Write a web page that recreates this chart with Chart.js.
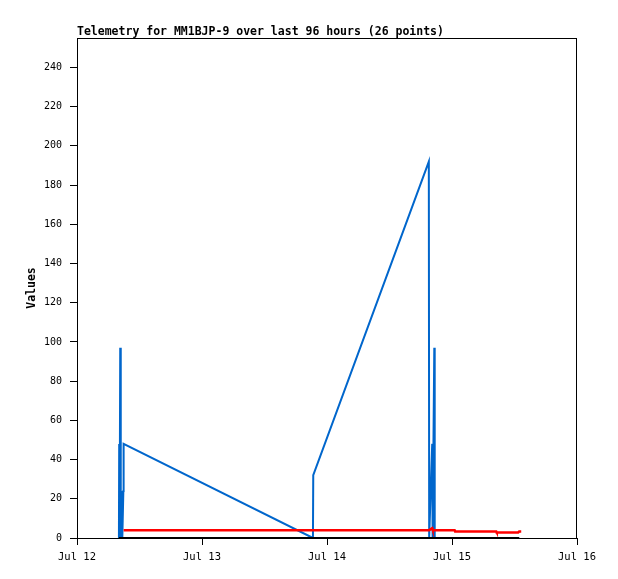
<!DOCTYPE html>
<html>
<head>
<meta charset="utf-8">
<script src="https://cdn.jsdelivr.net/npm/chart.js@4"></script>
<style>
  html, body { margin: 0; padding: 0; background: #fff; }
  #wrap { width: 618px; height: 579px; }
</style>
</head>
<body>
<div id="wrap"><canvas id="telemetry-chart" width="618" height="579"></canvas></div>
<script>
// Hours since Jul 12 00:00 for each of the 26 telemetry points
const hoursSinceStart = [8.05, 8.10, 8.18, 8.30, 8.40, 8.55, 8.70, 8.90, 8.95,
    45.30, 45.36, 67.55, 67.62, 68.20, 68.28, 68.60, 68.68,
    72.50, 72.60, 76.00, 80.50, 80.60, 83.00, 84.70, 84.90, 85.05];

const blueValues = [0, 48, 0, 97, 0, 24, 0, 24, 48,
    0, 32, 192, 0, 48, 0, 97, 0,
    0, 0, 0, 0, 0, 0, 0, 0, 0];

const redValues = [null, null, null, null, null, null, null, null, 4.0,
    4.0, 4.0, 4.0, 4.0, 5.0, 4.3, 4.0, 4.0,
    4.0, 3.3, 3.3, 3.3, 2.8, 2.8, 2.8, 3.3, 3.9];

const blackValues = [0, 0, 0, 0, 0, 0, 0, 0, 0,
    0, 0, 0, 0, 0, 0, 0, 0,
    0, 0, 0, 0, 0, 0, 0, 0, 0];

const dayLabels = ['Jul 12', 'Jul 13', 'Jul 14', 'Jul 15', 'Jul 16'];
const yTicks = [0, 20, 40, 60, 80, 100, 120, 140, 160, 180, 200, 220, 240];
const chartTitle = 'Telemetry for MM1BJP-9 over last 96 hours (26 points)';

const MONO = "'DejaVu Sans Mono', monospace";

function toPoints(values) {
    return values.map((v, i) => ({ x: hoursSinceStart[i], y: v }));
}

// Frame round the plot area and the left-aligned title
const framePlugin = {
    id: 'frame',
    afterDraw(chart) {
        const { ctx, chartArea } = chart;
        ctx.save();
        ctx.strokeStyle = '#000';
        ctx.lineWidth = 1;
        ctx.strokeRect(chartArea.left + 0.5, chartArea.top + 0.5,
            chartArea.right - chartArea.left - 1, chartArea.bottom - chartArea.top);
        ctx.fillStyle = '#000';
        ctx.font = 'bold 11.5px ' + MONO;
        ctx.textBaseline = 'alphabetic';
        ctx.textAlign = 'left';
        ctx.fillText(chartTitle, chartArea.left, chartArea.top - 3);
        ctx.restore();
    }
};

const ctx = document.getElementById('telemetry-chart').getContext('2d');

new Chart(ctx, {
    type: 'line',
    data: {
        datasets: [
            {
                label: 'ch1',
                data: toPoints(blueValues),
                borderColor: '#0066cc',
                borderWidth: 2,
                pointRadius: 0,
                tension: 0,
                fill: false,
                order: 3,
            },
            {
                label: 'ch2',
                data: toPoints(redValues),
                borderColor: '#ff0000',
                borderWidth: 2.5,
                pointRadius: 0,
                tension: 0,
                fill: false,
                spanGaps: false,
                order: 2,
            },
            {
                label: 'ch3',
                data: toPoints(blackValues),
                borderColor: '#000000',
                borderWidth: 2,
                pointRadius: 0,
                tension: 0,
                fill: false,
                order: 1,
            },
        ],
    },
    options: {
        animation: false,
        responsive: false,
        layout: { padding: { top: 38, right: 41, left: 0, bottom: 0 } },
        plugins: {
            legend: { display: false },
            tooltip: { enabled: false },
            title: { display: false },
        },
        scales: {
            x: {
                type: 'linear',
                min: 0,
                max: 96,
                afterFit(scale) { scale.height = 41; },
                afterBuildTicks(scale) {
                    scale.ticks = dayLabels.map((_, i) => ({ value: i * 24 }));
                },
                grid: { drawOnChartArea: false, drawTicks: true, tickLength: 7, color: '#000' },
                border: { display: true, color: '#000', width: 1 },
                ticks: {
                    color: '#000',
                    padding: 6,
                    maxRotation: 0,
                    font: { family: MONO, size: 10.5 },
                    callback: (v) => dayLabels[Math.round(v / 24)],
                },
            },
            y: {
                min: 0,
                max: 255,
                afterFit(scale) { scale.width = 77; },
                afterBuildTicks(scale) {
                    scale.ticks = yTicks.map(v => ({ value: v }));
                },
                grid: { drawOnChartArea: false, drawTicks: true, tickLength: 7, color: '#000' },
                border: { display: true, color: '#000', width: 1 },
                title: {
                    display: true,
                    text: 'Values',
                    color: '#000',
                    font: { family: MONO, size: 11.5, weight: 'bold' },
                    padding: { top: 25, bottom: 0 },
                },
                ticks: {
                    color: '#000',
                    padding: 8,
                    font: { family: MONO, size: 10 },
                },
            },
        },
    },
    plugins: [framePlugin],
});
</script>
</body>
</html>
